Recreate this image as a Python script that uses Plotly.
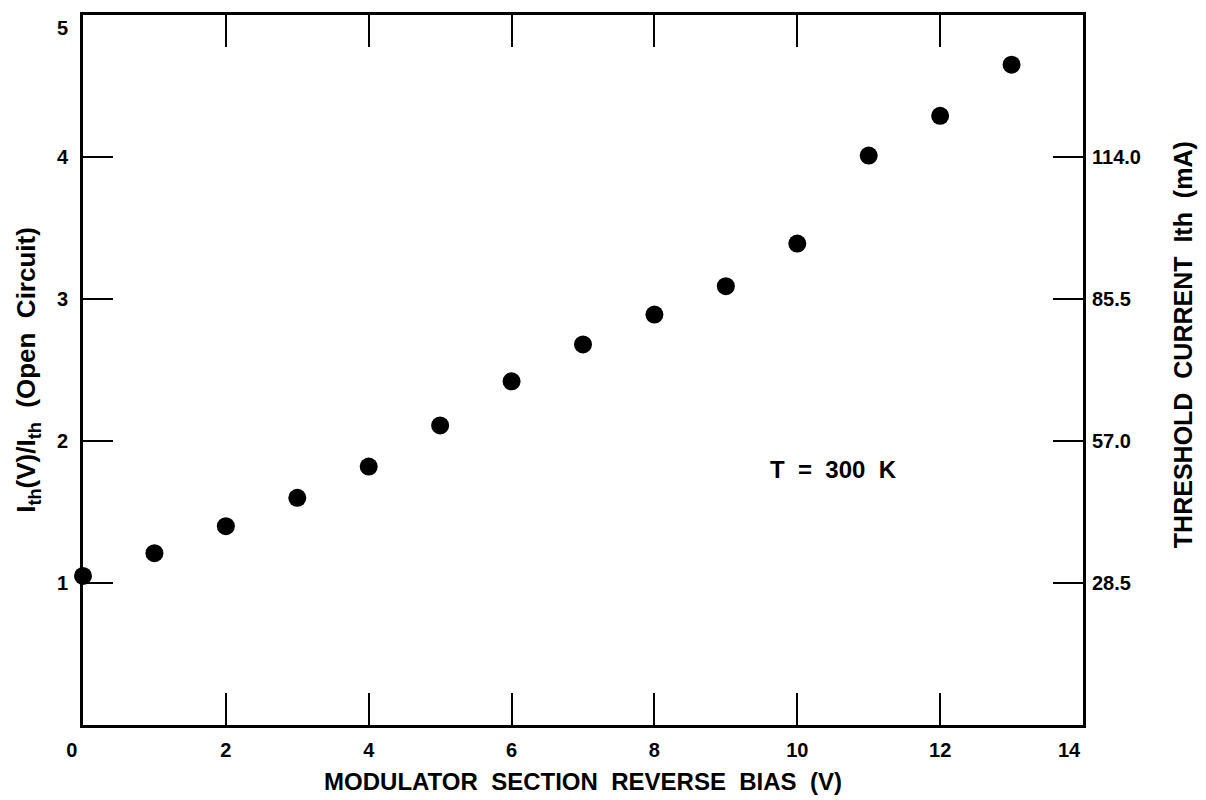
import plotly.graph_objects as go

bias_v = [0, 1, 2, 3, 4, 5, 6, 7, 8, 9, 10, 11, 12, 13]
ratio = [1.05, 1.21, 1.40, 1.60, 1.82, 2.11, 2.42, 2.68, 2.89, 3.09, 3.39, 4.01, 4.29, 4.65]

x_ticks = [0, 2, 4, 6, 8, 10, 12, 14]
x_labels = ["0\u00a0\u00a0\u00a0\u00a0", "2", "4", "6", "8", "10", "12", "14\u00a0\u00a0\u00a0\u00a0\u00a0"]
y_ticks = [1, 2, 3, 4, 5]
y_labels = ["1", "2", "3", "4", " <br>5"]
ith_scale = 28.5
y2_ticks = [28.5, 57.0, 85.5, 114.0]
y2_labels = ["28.5", "57.0", "85.5", "114.0"]

FONT = "Liberation Sans"

fig = go.Figure()
fig.add_trace(go.Scatter(
    x=bias_v, y=ratio, mode="markers",
    marker=dict(size=18, color="black"),
    showlegend=False, cliponaxis=False,
))
# invisible trace to carry the right-hand (threshold current) axis
fig.add_trace(go.Scatter(
    x=bias_v, y=[r * ith_scale for r in ratio], mode="markers",
    marker=dict(size=1, opacity=0), yaxis="y2",
    showlegend=False, hoverinfo="skip",
))

def b(s):
    return "<b>" + s + "</b>"

tickfont = dict(family=FONT, size=20, color="black")

fig.update_layout(
    width=1198, height=792,
    margin=dict(l=75, r=123, t=7, b=75, autoexpand=False),
    paper_bgcolor="white", plot_bgcolor="white",
    font=dict(family=FONT, color="black"),
    xaxis=dict(
        range=[0, 14], tickvals=x_ticks, ticktext=[b(s) for s in x_labels],
        ticks="inside", ticklen=32, tickwidth=2, tickcolor="black",
        showline=True, linewidth=3, linecolor="black", mirror="ticks",
        showgrid=False, zeroline=False, tickfont=tickfont, automargin=False,
        ticklabelstandoff=5, ticklabeloverflow="allow",
        title=dict(text=b("MODULATOR  SECTION  REVERSE  BIAS  (V)"),
                   font=dict(family=FONT, size=24, color="black"), standoff=14),
    ),
    yaxis=dict(
        range=[0, 5], tickvals=y_ticks, ticktext=[b(s) for s in y_labels],
        ticks="inside", ticklen=30, tickwidth=2, tickcolor="black",
        showline=True, linewidth=3, linecolor="black", mirror="ticks",
        showgrid=False, zeroline=False, tickfont=tickfont, automargin=False,
        ticklabelstandoff=8, ticklabeloverflow="allow",
        title=dict(text=b("I<sub>th</sub>(V)/I<sub>th</sub>  (Open  Circuit)"),
                   font=dict(family=FONT, size=26, color="black"), standoff=14),
    ),
    yaxis2=dict(
        range=[0, 5 * ith_scale], overlaying="y", side="right",
        tickvals=y2_ticks, ticktext=[b(s) for s in y2_labels],
        ticks="", showline=False, showgrid=False, zeroline=False,
        tickfont=tickfont, automargin=False, ticklabelstandoff=8,
        ticklabeloverflow="allow",
    ),
    annotations=[
        dict(
            x=10.5, y=1.8, xref="x", yref="y", text=b("T  =  300  K"), showarrow=False,
            font=dict(family=FONT, size=24, color="black"),
        ),
        dict(
            x=1.10, y=0.535, xref="paper", yref="paper", textangle=-90,
            text=b("THRESHOLD  CURRENT  Ith  (mA)"), showarrow=False,
            xanchor="center", yanchor="middle",
            font=dict(family=FONT, size=25, color="black"),
        ),
    ],
)

fig.write_html("out.html")
